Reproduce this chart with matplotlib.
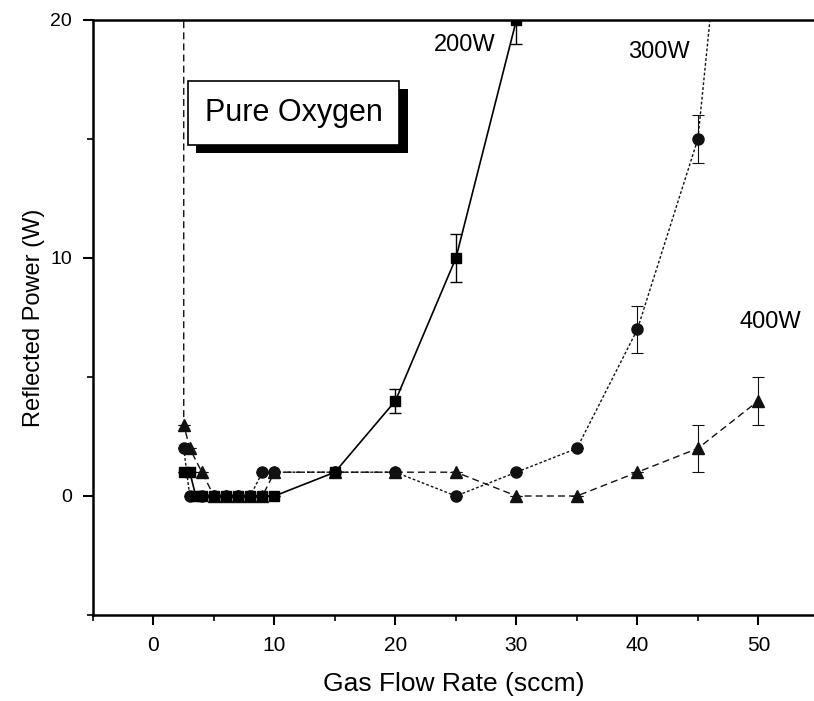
import numpy as np
import matplotlib.pyplot as plt
import matplotlib.patheffects as pe

plt.rcParams["font.family"] = ["Liberation Sans", "DejaVu Sans"]

# reflected power vs gas flow, pure oxygen
x200 = [2.5, 3, 3.5, 4, 5, 6, 7, 8, 9, 10, 15, 20, 25, 30]
y200 = [1, 1, 0, 0, 0, 0, 0, 0, 0, 0, 1, 4, 10, 20]
e200 = [0, 0, 0, 0, 0, 0, 0, 0, 0, 0, 0, 0.5, 1, 1]

x300 = [2.5, 3, 4, 5, 6, 7, 8, 9, 10, 15, 20, 25, 30, 35, 40, 45, 50]
y300 = [2, 0, 0, 0, 0, 0, 0, 1, 1, 1, 1, 0, 1, 2, 7, 15, 40]
e300 = [0, 0, 0, 0, 0, 0, 0, 0, 0, 0, 0, 0, 0, 0, 1, 1, 0]

x400 = [2.5, 2.5, 3, 4, 5, 6, 7, 8, 9, 10, 15, 20, 25, 30, 35, 40, 45, 50]
y400 = [60, 3, 2, 1, 0, 0, 0, 0, 0, 1, 1, 1, 1, 0, 0, 1, 2, 4]
e400 = [0, 0, 0, 0, 0, 0, 0, 0, 0, 0, 0, 0, 0, 0, 0, 0, 1, 1]

fig = plt.figure(figsize=(8.14, 7.01), dpi=100)
ax = fig.add_axes([93 / 814, 1 - 615 / 701, 721 / 814, 595 / 701])

# 400W dashed triangles
ax.errorbar(x400, y400, yerr=e400, color="#111111", linestyle=(0, (5, 3)), linewidth=1.0,
            marker="^", markersize=8, capsize=4, elinewidth=0.8, capthick=0.8, zorder=3)
# 300W dotted circles
ax.errorbar(x300, y300, yerr=e300, color="#111111", linestyle=(0, (2, 1.5)), linewidth=1.0,
            marker="o", markersize=8, capsize=4, elinewidth=0.8, capthick=0.8, zorder=4)
# 200W solid squares
ax.errorbar(x200, y200, yerr=e200, color="#000000", linestyle="-", linewidth=1.2,
            marker="s", markersize=7, capsize=4, elinewidth=1.0, capthick=1.0, zorder=5)

ax.set_xlim(-5, 54.6)
ax.set_ylim(-5, 20)
ax.set_xticks([0, 10, 20, 30, 40, 50])
ax.set_xticks([-5, 5, 15, 25, 35, 45], minor=True)
ax.set_yticks([0, 10, 20])
ax.set_yticks([-5, 5, 15], minor=True)
ax.tick_params(which="major", direction="out", length=7, width=1.5)
ax.tick_params(axis="x", which="major", labelsize=15, pad=8)
ax.tick_params(axis="y", which="major", labelsize=14, pad=8)
ax.tick_params(which="minor", direction="out", length=4, width=1.2)
ax.spines["right"].set_visible(False)
for s in ["left", "bottom", "top"]:
    ax.spines[s].set_linewidth(1.8)

ax.set_xlabel("Gas Flow Rate (sccm)", fontsize=19, labelpad=12)
ax.set_ylabel("Reflected Power (W)", fontsize=17, labelpad=4)

ax.text(25.7, 18.95, "200W", fontsize=17, ha="center", va="center")
ax.text(41.8, 18.65, "300W", fontsize=17, ha="center", va="center")
ax.text(51.0, 7.3, "400W", fontsize=17, ha="center", va="center")

# boxed label with drop shadow
box = ax.text(0.155, 0.844, "Pure Oxygen", transform=ax.transAxes, fontsize=22,
              ha="left", va="center", zorder=7,
              bbox=dict(boxstyle="square,pad=0.55", fc="white", ec="black", lw=1.2))
box.get_bbox_patch().set_path_effects([
    pe.SimplePatchShadow(offset=(6, -6), shadow_rgbFace="black", alpha=1.0),
    pe.Normal(),
])

fig.savefig("out.png", dpi=100)
